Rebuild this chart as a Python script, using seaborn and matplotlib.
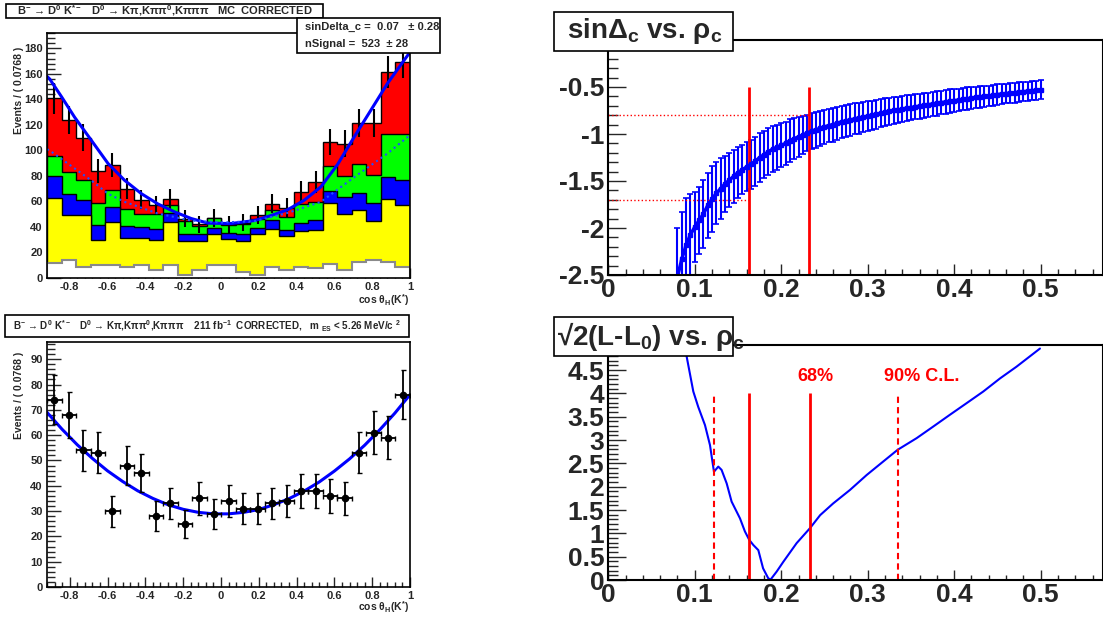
import numpy as np
import matplotlib
matplotlib.use("Agg")
import matplotlib.pyplot as plt
import seaborn as sns
from matplotlib.patches import Rectangle
from matplotlib.ticker import MultipleLocator, FuncFormatter

# ---------------- data: top-left, MC stack vs cos(theta_H) ----------------
bin_edges = np.linspace(-0.92, 1.0, 26)
# cumulative tops of each stacked component (bottom -> top)
white_top = [12, 14, 9, 10, 10, 9, 10, 6, 10, 2.6, 6.5, 10, 10, 4.7, 2.6, 9, 6.5, 9, 8, 11, 6, 12.5, 14, 12.5, 9]
yellow_top = [63, 49.7, 49.7, 29.6, 44, 31.6, 31.6, 30, 44, 28.8, 28.8, 34.8, 30.8, 29, 34.8, 38.7, 32.7, 36.9, 37.4, 58.8, 50.5, 53, 44.7, 62.2, 57]
blue_top = [80, 65.6, 61.5, 41.3, 55.6, 40.5, 40, 38.7, 51, 34.8, 34.8, 39.5, 35.3, 34.8, 39.5, 45.2, 38, 43.1, 45.2, 68.2, 63.5, 66.7, 58.8, 79.2, 76.6]
green_top = [95.5, 83, 77, 58.8, 68.8, 54, 50, 50, 57.5, 44.7, 40.5, 47, 41.3, 42, 46.5, 53, 47.8, 58.3, 59.6, 87.6, 79.7, 89, 80.5, 113, 113]
red_top = [140.7, 124, 110, 84, 88.4, 70, 61.5, 57, 62, 46.5, 42, 47, 42, 43.4, 49.7, 58.3, 55, 67.5, 75.3, 106.7, 105.3, 121.6, 121.6, 161.6, 169.4]
mc_err = [11.9, 11.1, 10.5, 9.2, 9.4, 8.4, 7.8, 7.5, 7.9, 6.8, 6.5, 6.9, 6.5, 6.6, 7.0, 7.6, 7.4, 8.2, 8.7, 10.3, 10.3, 11.0, 11.0, 12.7, 13.0]

fit_x = [-0.92, -0.906, -0.843, -0.774, -0.686, -0.597, -0.51, -0.42, -0.333, -0.245, -0.157, -0.069, 0.0,
         0.054, 0.177, 0.266, 0.353, 0.441, 0.529, 0.617, 0.705, 0.793, 0.881, 0.969, 1.0]
fit_total = [158, 156, 142, 126, 108, 89.7, 76.6, 66, 58, 51.8, 46.6, 43, 42.8,
             42.7, 45, 49, 53.5, 61, 71.5, 89, 110.6, 131.5, 152.5, 170.7, 177]
bkg_x = [-0.92, -0.897, -0.686, -0.597, -0.51, -0.333, -0.157, 0.0, 0.177, 0.353, 0.529, 0.705, 0.881, 1.0]
fit_bkg = [101, 99, 76.5, 66, 59.7, 50.5, 45, 43.5, 44.5, 51, 59.7, 79, 97.6, 112]

# ---------------- data: bottom-left, data points ----------------
data_counts = [74, 68, 54, 53, 30, 48, 45, 28, 33, 25, 35, 29, 34, 31, 31, 33, 34, 38, 38, 36, 35, 53, 61, 59, 76]
data_err = [9.6, 9, 8.2, 8.1, 6.1, 7.7, 7.4, 5.8, 6.3, 5.5, 6.5, 5.9, 6.4, 6.1, 6.1, 6.3, 6.4, 6.8, 6.8, 6.6, 6.5, 8.1, 8.6, 8.4, 9.6]
data_fit_x = [-0.92, -0.84, -0.76, -0.68, -0.60, -0.52, -0.44, -0.36, -0.28, -0.20, -0.12, -0.04, 0.04,
              0.12, 0.20, 0.28, 0.36, 0.44, 0.52, 0.60, 0.68, 0.76, 0.84, 0.92, 1.00]
data_fit = [69.0, 62.3, 56.2, 50.8, 45.9, 41.7, 38.0, 35.0, 32.5, 30.7, 29.5, 28.9, 28.9,
            29.5, 30.6, 32.5, 34.9, 37.9, 41.5, 45.8, 50.6, 56.0, 62.1, 68.7, 76.0]

# ---------------- data: top-right, sinDelta_c vs rho_c scan ----------------
rho_scan = np.linspace(0.08, 0.50, 85)
sin_delta = [-2.52, -2.33, -2.18, -2.07, -1.99, -1.92, -1.85, -1.76, -1.69, -1.63, -1.58, -1.53, -1.49, -1.45,
             -1.41, -1.38, -1.35, -1.32, -1.29, -1.25, -1.22, -1.19, -1.16, -1.14, -1.12, -1.10, -1.07, -1.05,
             -1.03, -1.01, -0.99, -0.97, -0.955, -0.94, -0.925, -0.91, -0.90, -0.885, -0.87, -0.86, -0.85,
             -0.84, -0.83, -0.82, -0.81, -0.80, -0.79, -0.78, -0.77, -0.76, -0.75, -0.745, -0.735, -0.725,
             -0.72, -0.71, -0.705, -0.695, -0.69, -0.68, -0.675, -0.665, -0.66, -0.65, -0.645, -0.64, -0.63,
             -0.625, -0.62, -0.61, -0.605, -0.60, -0.595, -0.59, -0.58, -0.575, -0.57, -0.565, -0.56, -0.555,
             -0.55, -0.545, -0.54, -0.535, -0.53]
sin_delta_err = [0.52, 0.50, 0.50, 0.43, 0.37, 0.36, 0.36, 0.35, 0.35, 0.33, 0.32, 0.30, 0.29, 0.28, 0.27,
                 0.26, 0.26, 0.26, 0.26, 0.26, 0.25, 0.25, 0.24, 0.24, 0.235, 0.23, 0.225, 0.22, 0.21, 0.20,
                 0.195, 0.19, 0.19, 0.185, 0.185, 0.18, 0.18, 0.175, 0.17, 0.17, 0.17, 0.165, 0.165, 0.16,
                 0.16, 0.155, 0.155, 0.15, 0.15, 0.145, 0.145, 0.14, 0.14, 0.14, 0.135, 0.135, 0.135, 0.13,
                 0.13, 0.13, 0.13, 0.125, 0.125, 0.125, 0.12, 0.12, 0.12, 0.12, 0.115, 0.115, 0.115, 0.115,
                 0.11, 0.11, 0.11, 0.11, 0.105, 0.105, 0.105, 0.105, 0.10, 0.10, 0.10, 0.10, 0.10]
rho_68 = [0.1623, 0.2325]
sin_at_68 = [-1.70, -0.795]

# ---------------- data: bottom-right, sqrt(2 dNLL) vs rho_c ----------------
rho_nll = [0.0906, 0.0983, 0.104, 0.1118, 0.1176, 0.1222, 0.1272, 0.131, 0.1369, 0.1426, 0.1523, 0.158,
           0.163, 0.1677, 0.1735, 0.179, 0.185, 0.1877, 0.1947, 0.2024, 0.2178, 0.2332, 0.245, 0.26,
           0.2795, 0.2988, 0.318, 0.3346, 0.3566, 0.3759, 0.395, 0.4144, 0.4337, 0.453, 0.472, 0.4992]
sqrt_nll = [4.79, 4.04, 3.71, 3.32, 2.89, 2.32, 2.43, 2.36, 2.07, 1.68, 1.32, 1.04,
            0.86, 0.75, 0.64, 0.25, 0.036, 0.01, 0.18, 0.39, 0.79, 1.11, 1.39, 1.64,
            1.93, 2.25, 2.54, 2.79, 3.04, 3.29, 3.54, 3.79, 4.04, 4.32, 4.57, 4.96]
cl68_limits = [0.1627, 0.2336]
cl90_limits = [0.1226, 0.3346]

# ---------------- style ----------------
sns.set_style("ticks")
plt.rcParams['font.family'] = ['Liberation Sans', 'DejaVu Sans']
plt.rcParams['font.weight'] = 'bold'
plt.rcParams['mathtext.default'] = 'regular'
plt.rcParams['axes.unicode_minus'] = False

W, H = 1103, 617
fig = plt.figure(figsize=(W / 100, H / 100), dpi=100)


def fig_rect(x0, y0, x1, y1):
    return [x0 / W, 1 - y1 / H, (x1 - x0) / W, (y1 - y0) / H]


def g_fmt(v, pos):
    v = round(v, 4)
    if v == 0:
        return "0"
    return f"{v:g}"


def box(x0, y0, x1, y1):
    fig.add_artist(Rectangle((x0 / W, 1 - y1 / H), (x1 - x0) / W, (y1 - y0) / H,
                             transform=fig.transFigure, fc='white', ec='black', lw=1.2, zorder=10))


def label_box(x0, y0, x1, y1, text, size, tx=None, ha='center'):
    box(x0, y0, x1, y1)
    xt = (x0 + x1) / 2 if tx is None else tx
    fig.text(xt / W, 1 - (y0 + y1) / 2 / H, text, ha=ha, va='center', fontsize=size,
             fontweight='bold', zorder=11)


def root_ticks(ax, xmaj, xmin, ymaj, ymin, xlen, ylen, size, xpad, ypad):
    ax.xaxis.set_major_locator(MultipleLocator(xmaj))
    ax.xaxis.set_minor_locator(MultipleLocator(xmin))
    ax.yaxis.set_major_locator(MultipleLocator(ymaj))
    ax.yaxis.set_minor_locator(MultipleLocator(ymin))
    ax.xaxis.set_major_formatter(FuncFormatter(g_fmt))
    ax.yaxis.set_major_formatter(FuncFormatter(g_fmt))
    ax.tick_params(which='both', direction='in', top=False, right=False, width=1)
    ax.tick_params(axis='x', which='major', length=xlen[0], labelsize=size, pad=xpad)
    ax.tick_params(axis='x', which='minor', length=xlen[1])
    ax.tick_params(axis='y', which='major', length=ylen[0], labelsize=size, pad=ypad)
    ax.tick_params(axis='y', which='minor', length=ylen[1])


centers = 0.5 * (bin_edges[:-1] + bin_edges[1:])
half_bin = 0.5 * (bin_edges[1] - bin_edges[0])

# ---------------- top-left ----------------
ax1 = fig.add_axes(fig_rect(47, 33, 410, 278))
ax1.stairs(red_top, bin_edges, fill=True, facecolor='#ff0000', edgecolor='black', lw=1)
ax1.stairs(green_top, bin_edges, fill=True, facecolor='#00ff00', edgecolor='black', lw=1)
ax1.stairs(blue_top, bin_edges, fill=True, facecolor='#0000ff', edgecolor='black', lw=1)
ax1.stairs(yellow_top, bin_edges, fill=True, facecolor='#ffff00', edgecolor='black', lw=1)
ax1.stairs(white_top, bin_edges, fill=True, facecolor='white', edgecolor='#8a8a8a', lw=1.5)
ax1.errorbar(centers, red_top, yerr=mc_err, fmt='none', ecolor='black', elinewidth=1.5, capsize=0)
sns.lineplot(x=fit_x, y=fit_total, ax=ax1, color='#0000ff', lw=2.2)
sns.lineplot(x=bkg_x, y=fit_bkg, ax=ax1, color='#2050ff', lw=1.5, linestyle=':')
ax1.set_xlim(-0.92, 1.0)
ax1.set_ylim(0, 192)
root_ticks(ax1, 0.2, 0.04, 20, 4, (7, 3.5), (10, 5.5), 8, 3, 3)
ax1.set_xlabel('')
ax1.set_ylabel('Events / ( 0.0768 )', fontsize=7.5, fontweight='bold', loc='top')
ax1.yaxis.set_label_coords(-0.063, 0.943)
fig.text(409 / W, 1 - 300 / H, r'cos θ$_H$(K$^{*}$)', ha='right', va='center', fontsize=7.5, fontweight='bold')

label_box(6, 4, 323, 18, r'B$^{-}$ → D$^{0}$ K$^{*-}$   D$^{0}$ → Kπ,Kππ$^{0}$,Kπππ   MC  CORRECTED', 8)
box(297, 18, 440, 53)
fig.text(305 / W, 1 - 27 / H, 'sinDelta_c =  0.07   ± 0.28', ha='left', va='center', fontsize=8,
         fontweight='bold', zorder=11)
fig.text(305 / W, 1 - 44 / H, 'nSignal =  523  ± 28', ha='left', va='center', fontsize=8,
         fontweight='bold', zorder=11)

# ---------------- bottom-left ----------------
ax2 = fig.add_axes(fig_rect(47, 342, 410, 587))
sns.lineplot(x=data_fit_x, y=data_fit, ax=ax2, color='#0000ff', lw=2.2)
ax2.errorbar(centers, data_counts, xerr=half_bin, yerr=data_err, fmt='o', color='black', ms=4.5,
             elinewidth=1.3, capsize=1.8, capthick=1, zorder=5)
ax2.set_xlim(-0.92, 1.0)
ax2.set_ylim(0, 96.8)
root_ticks(ax2, 0.2, 0.04, 10, 2, (7, 3.5), (10, 5.5), 8, 3, 3)
ax2.set_xlabel('')
ax2.set_ylabel('Events / ( 0.0768 )', fontsize=7.5, fontweight='bold', loc='top')
ax2.yaxis.set_label_coords(-0.063, 0.96)
fig.text(409 / W, 1 - 607 / H, r'cos θ$_H$(K$^{*}$)', ha='right', va='center', fontsize=7.5, fontweight='bold')
label_box(5, 315, 409, 337,
          r'B$^{-}$ → D$^{0}$ K$^{*-}$   D$^{0}$ → Kπ,Kππ$^{0}$,Kπππ    211 fb$^{-1}$  CORRECTED,   m $_{ES}$ < 5.26 MeV/c $^{2}$',
          7.1)

for ax in (ax1, ax2):
    for sp in ax.spines.values():
        sp.set_linewidth(1.2)
        sp.set_color('black')

# ---------------- top-right ----------------
ax3 = fig.add_axes(fig_rect(608.3, 40, W, 275))
ax3.errorbar(rho_scan, sin_delta, yerr=sin_delta_err, fmt='-s', color='#0000ff', ms=2.5, lw=2.5,
             elinewidth=1.5, capsize=2, capthick=1.2)
ax3.vlines(rho_68, -2.5, -0.5, color='red', lw=2)
ax3.hlines(sin_at_68, 0, rho_68, color='red', lw=1, linestyle=':')
ax3.set_xlim(0, (W - 608.3) / 864.7)
ax3.set_ylim(-2.5, 0)
root_ticks(ax3, 0.1, 0.02, 0.5, 0.1, (8, 4), (13, 7), 19, 2, 3)
ax3.set_yticks([-2.5, -2, -1.5, -1, -0.5])
label_box(554, 12, 733, 51, r'sinΔ$_c$ vs. ρ$_c$', 20, tx=567, ha='left')

# ---------------- bottom-right ----------------
ax4 = fig.add_axes(fig_rect(608.3, 345, W, 580))
sns.lineplot(x=rho_nll, y=sqrt_nll, ax=ax4, color='#0000ff', lw=1.5)
ax4.vlines(cl68_limits, 0, 4, color='red', lw=2)
ax4.vlines(cl90_limits, 0, 4, color='red', lw=1.5, linestyle=(0, (3, 2)))
ax4.text(0.239, 4.36, '68%', color='red', ha='center', va='center', fontsize=13, fontweight='bold')
ax4.text(0.362, 4.36, '90% C.L.', color='red', ha='center', va='center', fontsize=13, fontweight='bold')
ax4.set_xlim(0, (W - 608.3) / 864.7)
ax4.set_ylim(0, 5.036)
root_ticks(ax4, 0.1, 0.02, 0.5, 0.1, (7, 3.5), (13, 7), 19, 2, 3)
ax4.set_yticks([0, 0.5, 1, 1.5, 2, 2.5, 3, 3.5, 4, 4.5])
label_box(554, 317, 733, 356, r'√2(L-L$_0$) vs. ρ$_c$', 20, tx=557, ha='left')

for ax in (ax1, ax2, ax3, ax4):
    for lab in ax.get_xticklabels() + ax.get_yticklabels():
        lab.set_fontweight('bold')
for ax in (ax3, ax4):
    for sp in ax.spines.values():
        sp.set_linewidth(1.5)
        sp.set_color('black')

fig.savefig('out.png', dpi=100)
